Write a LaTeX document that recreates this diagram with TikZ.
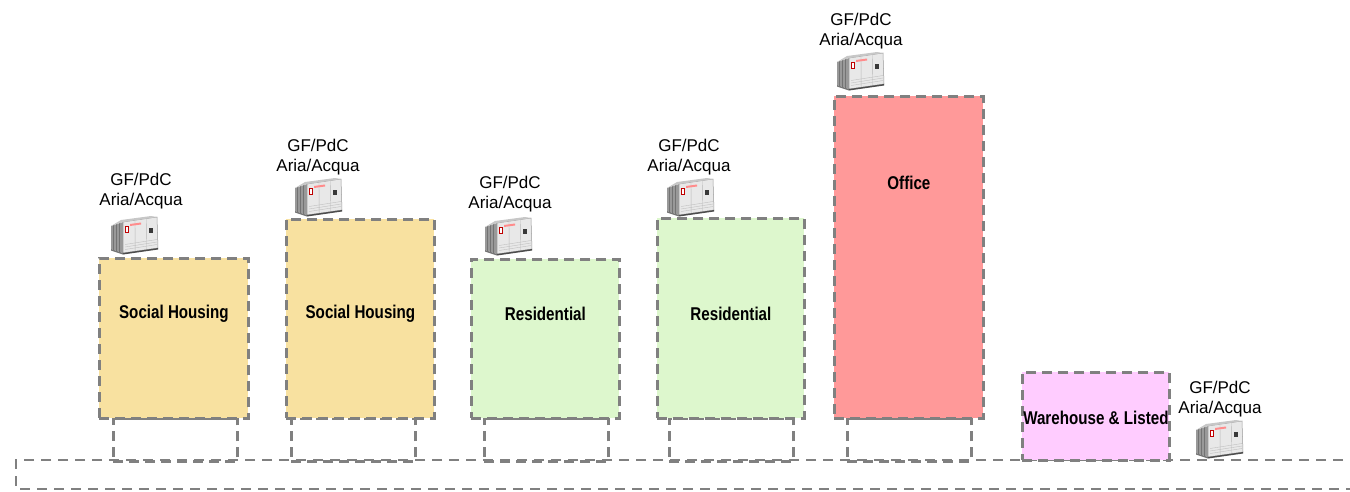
\documentclass[tikz,border=0pt]{standalone}
\usepackage{fontspec}
\setmainfont{Liberation Sans}
\newfontfamily\narrowbold[FakeStretch=0.82]{Liberation Sans Bold}
\begin{document}
\begin{tikzpicture}[x=1pt,y=-1pt,
  dashedge/.style={draw=black!50, line width=2.8pt, dash pattern=on 10pt off 6pt},
  building/.style={dashedge, rectangle, inner sep=0pt, anchor=north west, align=center},
  footing/.style={dashedge, rectangle, inner sep=0pt, anchor=north west},
  bname/.style={inner sep=0pt, font=\narrowbold\fontsize{18.5}{22}\selectfont},
  unitlabel/.style={align=center, inner sep=0pt, font=\fontsize{17}{20}\selectfont},
  chiller/.pic={
    % finned coil block
    \fill[black!40] (0,10) -- (12,6) -- (12,37) -- (0,33) -- cycle;
    \foreach \u in {2.5,5.5,8.5}
      \draw[black!55, line width=0.5pt] (\u,{10-\u/3}) -- (\u,{33+\u/3});
    % cabinet front
    \fill[black!9] (12,6) -- (46,1) -- (47,32) -- (12,37) -- cycle;
    \draw[black!40, line width=0.5pt] (12,6) -- (46,1) -- (47,32) -- (12,37) -- cycle;
    \draw[black!28, line width=0.4pt] (24,4.3) -- (24.2,35.2) (35.5,2.6) -- (35.8,33.5);
    % top edge
    \fill[black!22] (0,10) -- (12,6) -- (46,1) -- (40,0) -- (10,4) -- cycle;
    % maker logo
    \fill[red!75!black] (13.5,9.5) rectangle (17.5,17);
    \fill[white] (14.5,11) rectangle (16.5,15.5);
    \fill[red!45] (19,8) -- (30,6.5) -- (30,8.5) -- (19,10) -- cycle;
    % control panel
    \fill[black!78] (38,12) rectangle (42,16.5);
    % louvres and base
    \foreach \v in {26,28.5,31}
      \draw[black!25, line width=0.4pt] (14,\v+2.5) -- (46,\v-2.5);
    \fill[black!70] (12,37) -- (47,32) -- (47,33.5) -- (12,38.5) -- cycle;
    \fill[black!55] (0,33) -- (12,37) -- (12,38.5) -- (0,34.5) -- cycle;
  }]
\useasboundingbox (0,0) rectangle (1350,491);
\clip (0,0) rectangle (1350,491);

% ground strip running off to the right
\draw[dashedge, line width=2.3pt, dash pattern=on 10pt off 7pt] (1360,460) -- (16,460) -- (16,489) -- (1360,489);

% footings under the buildings
\node[footing, minimum width=124pt, minimum height=43pt] (f1) at (112,417) {};
\node[footing, minimum width=124pt, minimum height=43pt] (f2) at (290,417) {};
\node[footing, minimum width=124pt, minimum height=43pt] (f3) at (483,417) {};
\node[footing, minimum width=124pt, minimum height=43pt] (f4) at (668,417) {};
\node[footing, minimum width=124pt, minimum height=43pt] (f5) at (846,417) {};

% buildings
\node[building, fill={rgb,255:red,248;green,225;blue,160}, minimum width=149pt, minimum height=160pt] (b1) at (98,257) {};
\node[building, fill={rgb,255:red,248;green,225;blue,160}, minimum width=148pt, minimum height=199pt] (b2) at (285,218) {};
\node[building, fill={rgb,255:red,221;green,247;blue,205}, minimum width=148pt, minimum height=159pt] (b3) at (470,258) {};
\node[building, fill={rgb,255:red,221;green,247;blue,205}, minimum width=147pt, minimum height=200pt] (b4) at (656,217) {};
\node[building, fill={rgb,255:red,255;green,153;blue,153}, minimum width=149pt, minimum height=322pt] (b5) at (833,95) {};
\node[building, fill={rgb,255:red,255;green,204;blue,255}, minimum width=147pt, minimum height=88pt] (b6) at (1021,371) {};

% building names
\node[bname] (n1) at (b1.center |- 0,314) {Social Housing};
\node[bname] (n2) at (b2.center |- 0,314) {Social Housing};
\node[bname] (n3) at (b3.center |- 0,314) {Residential};
\node[bname] (n4) at (b4.center |- 0,314) {Residential};
\node[bname] (n5) at (b5.center |- 0,183) {Office};
\node[bname] (n6) at (b6.center |- 0,418) {Warehouse \& Listed};

% heat pump units on the roofs
\pic (u1) at (111,216) {chiller};
\pic (u2) at (295,178) {chiller};
\pic (u3) at (485,217) {chiller};
\pic (u4) at (667,178) {chiller};
\pic (u5) at (837,52) {chiller};
\pic (u6) at (1196,420) {chiller};

% unit captions
\node[unitlabel] (l1) at (141,191) {GF/PdC\\Aria/Acqua};
\node[unitlabel] (l2) at (318,157) {GF/PdC\\Aria/Acqua};
\node[unitlabel] (l3) at (510,194) {GF/PdC\\Aria/Acqua};
\node[unitlabel] (l4) at (689,157) {GF/PdC\\Aria/Acqua};
\node[unitlabel] (l5) at (861,31) {GF/PdC\\Aria/Acqua};
\node[unitlabel] (l6) at (1220,399) {GF/PdC\\Aria/Acqua};
\end{tikzpicture}
\end{document}
